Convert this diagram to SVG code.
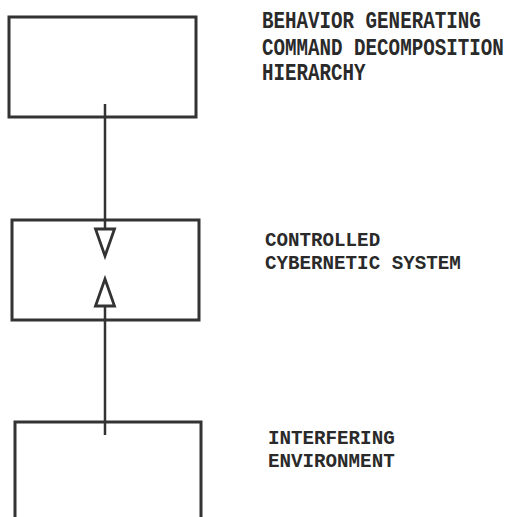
<svg xmlns="http://www.w3.org/2000/svg" width="507" height="517" viewBox="0 0 507 517">
  <style>
    .box { fill: none; stroke: #333; stroke-width: 3; }
    .conn { fill: none; stroke: #333; stroke-width: 2.5; }
    .lbl { font-family: "Liberation Mono", "Courier New", monospace; font-size: 19.2px; font-weight: bold; fill: #2a2a2a; }
  </style>
  <defs>
    <marker id="tri" markerUnits="userSpaceOnUse" viewBox="-3 -13 34 26" refX="0" refY="0" markerWidth="34" markerHeight="26" orient="auto">
      <path d="M0,-9.5 L27,0 L0,9.5 Z" fill="#fff" stroke="#333" stroke-width="2.8" stroke-linejoin="miter"/>
    </marker>
  </defs>
  <rect width="507" height="517" fill="#fff"/>

  <g id="node-behavior">
    <rect class="box" x="9" y="17" width="187" height="100"/>
    <text class="lbl" transform="translate(262,28) scale(1,1.2)">BEHAVIOR GENERATING</text>
    <text class="lbl" transform="translate(262,55) scale(1,1.2)">COMMAND DECOMPOSITION</text>
    <text class="lbl" transform="translate(262,80) scale(1,1.2)">HIERARCHY</text>
  </g>

  <g id="node-system">
    <rect class="box" x="12" y="220" width="187" height="100"/>
    <text class="lbl" transform="translate(265,246) scale(1,1.1)">CONTROLLED</text>
    <text class="lbl" transform="translate(265,269) scale(1,1.1)">CYBERNETIC SYSTEM</text>
  </g>

  <g id="node-environment">
    <path class="box" d="M15,520 L15,422 L201,422 L201,520"/>
    <text class="lbl" transform="translate(268,444) scale(1,1.1)">INTERFERING</text>
    <text class="lbl" transform="translate(268,467) scale(1,1.1)">ENVIRONMENT</text>
  </g>

  <g id="connectors">
    <path class="conn" d="M105,104 L105,229" marker-end="url(#tri)"/>
    <path class="conn" d="M105,435 L105,306" marker-end="url(#tri)"/>
  </g>
</svg>
